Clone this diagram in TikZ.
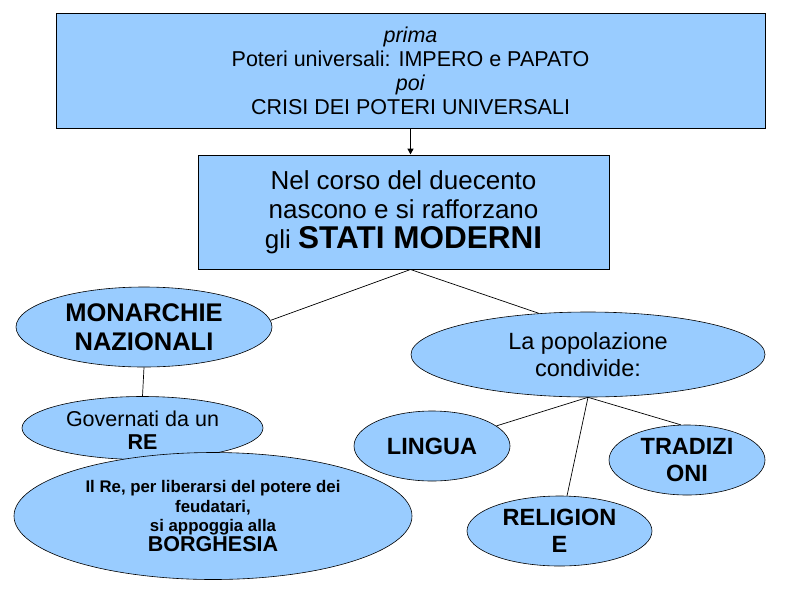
\documentclass[tikz,border=0pt]{standalone}
\usepackage{fontspec}
\setmainfont{Liberation Sans}
\usetikzlibrary{arrows.meta,shapes.geometric}
\definecolor{fillblue}{HTML}{99CCFF}
\begin{document}
\begin{tikzpicture}[x=1pt,y=-1pt,
  box/.style={draw=black, line width=1pt, fill=fillblue, rectangle, inner sep=0pt, align=center},
  oval/.style={draw=black, line width=0.6pt, fill=fillblue, ellipse, inner sep=0pt},
  link/.style={draw=black, line width=0.7pt},
  txt/.style={align=center, inner sep=0pt, text=black}]
\useasboundingbox (0,0) rectangle (794,595);
\node[box, minimum width=709pt, minimum height=115pt, font=\fontsize{21.5}{24}\selectfont] (top) at (410.5,70.5)
  {\textit{prima}\\Poteri universali: IMPERO e PAPATO\\\textit{poi}\\CRISI DEI POTERI UNIVERSALI};
\node[box, minimum width=411pt, minimum height=114pt, font=\fontsize{26}{29.5}\selectfont] (stati) at (403.5,212)
  {Nel corso del duecento\\nascono e si rafforzano\\gli {\fontsize{31.5}{34}\selectfont\bfseries STATI MODERNI}};
\node[oval, minimum width=256pt, minimum height=80pt,
  label={[txt, font=\fontsize{25.5}{29}\selectfont\bfseries]center:{MONARCHIE\\NAZIONALI}}] (mon) at (144,327) {};
\node[oval, minimum width=354pt, minimum height=85pt,
  label={[txt, font=\fontsize{23.5}{27}\selectfont]center:{La popolazione\\condivide:}}] (pop) at (588,354.5) {};
\node[oval, minimum width=241pt, minimum height=63pt,
  label={[txt, font=\fontsize{21.5}{23}\selectfont, yshift=-2pt]center:{Governati da un\\\textbf{RE}}}] (gov) at (142.5,428) {};
\node[oval, minimum width=398pt, minimum height=127pt,
  label={[txt, font=\fontsize{16.8}{19.5}\selectfont\bfseries]center:{Il Re, per liberarsi del potere dei\\feudatari,\\si appoggia alla\\{\fontsize{21.5}{21.5}\selectfont\bfseries BORGHESIA}}}] (ilre) at (213,516) {};
\node[oval, minimum width=156pt, minimum height=70pt,
  label={[txt, font=\fontsize{23.5}{27}\selectfont\bfseries]center:{LINGUA}}] (ling) at (432,446) {};
\node[oval, minimum width=156pt, minimum height=70pt,
  label={[txt, font=\fontsize{23.5}{26.5}\selectfont\bfseries]center:{TRADIZI\\ONI}}] (trad) at (687,460) {};
\node[oval, minimum width=185pt, minimum height=70pt,
  label={[txt, font=\fontsize{23.5}{27}\selectfont\bfseries]center:{RELIGION\\E}}] (rel) at (559.5,531) {};
\coordinate (apex) at (stati.south -| top.south);
\draw[draw=black, line width=1.6pt, -{Triangle[length=6pt,width=6pt]}] (top.south) -- (top.south |- stati.north);
\draw[link] (apex) -- (mon.3);
\draw[link] (apex) -- (pop.140);
\draw[link] (mon.south) -- (gov.north);
\draw[link] (pop.south) -- (ling);
\draw[link] (pop.south) -- (rel);
\draw[link] (pop.south) -- (trad.100);
\end{tikzpicture}
\end{document}
